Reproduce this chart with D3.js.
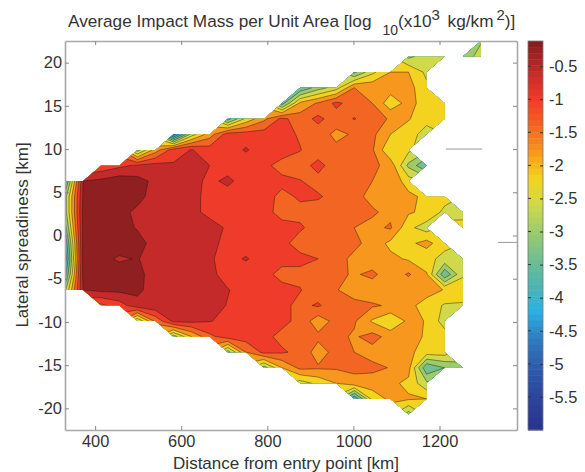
<!DOCTYPE html>
<html>
<head>
<meta charset="utf-8">
<script src="https://cdnjs.cloudflare.com/ajax/libs/d3/7.8.5/d3.min.js"></script>
<style>
  html, body { margin: 0; padding: 0; background: #fff; }
  text { font-family: "Liberation Sans", Arial, sans-serif; fill: #333; }
</style>
</head>
<body>
<svg id="chart" width="585" height="472"></svg>
<script>
const _ = null;

// log10 impact mass, one row per lateral position (+22.5 km first)
// columns start at 330 km, 42 km apart
const massRows = [
  [_,_,_,_,_,_,_,_,_,_,_,_,_,_,_,_,_,_,_,_,_,_,_,-2.85],
  [_,_,_,_,_,_,_,_,_,_,_,_,_,_,_,_,_,_,_,-2.9,-2.6,-2.6,-3.1,-2.6],
  [_,_,_,_,_,_,_,_,_,_,_,_,_,_,_,_,-3.3,-2.5,-2.0,-2.0,-2.5,_,_,_],
  [_,_,_,_,_,_,_,_,_,_,_,_,_,-3.6,-3.0,-2.6,-1.6,-1.7,-1.8,-1.85,-2.3,_,_,_],
  [_,_,_,_,_,_,_,_,_,_,_,_,-3.4,-1.9,-1.55,-1.1,-1.4,-1.6,-2.25,-1.85,-2.2,-2.35,_,_],
  [_,_,_,_,_,_,_,_,_,-3.4,-2.3,-1.7,-1.1,-1.4,-1.1,-1.4,-1.18,-1.4,-1.65,-1.97,-2.25,-2.35,_,_],
  [_,_,_,_,_,_,-4.6,-2.6,-1.8,-1.0,-1.0,-1.0,-1.05,-1.25,-1.4,-1.7,-1.55,-1.5,-2.0,-2.2,-2.6,_,_,_],
  [_,_,_,_,-3.0,-1.8,-1.0,-0.78,-1.0,-1.0,-0.76,-1.0,-1.0,-1.18,-1.45,-1.5,-1.45,-1.55,-2.38,-2.3,_,_,_,_],
  [_,_,-1.1,-0.9,-0.75,-0.65,-0.75,-0.6,-0.8,-1.0,-1.05,-1.1,-1.35,-1.4,-1.05,-1.45,-1.4,-1.5,-1.75,-2.9,-3.6,_,_,_],
  [-3.8,-0.4,-0.3,-0.15,-0.25,-0.5,-0.6,-0.65,-0.9,-0.7,-1.0,-1.05,-1.1,-1.18,-1.35,-1.4,-1.4,-1.6,-1.7,-2.2,_,_,_,_],
  [-3.0,-0.35,-0.25,-0.15,-0.25,-0.6,-0.6,-0.7,-0.9,-1.0,-1.0,-1.05,-1.3,-1.15,-1.15,-1.35,-1.5,-1.7,-1.8,-1.9,-2.1,-2.25,_,_],
  [-3.0,-0.3,-0.2,-0.25,-0.5,-0.6,-0.6,-0.7,-0.9,-1.05,-1.05,-1.1,-1.3,-1.3,-1.4,-1.4,-1.5,-1.55,-1.7,-1.95,-2.1,-2.5,-2.5,_],
  [-3.4,-0.3,-0.2,-0.3,-0.42,-0.55,-0.6,-0.6,-0.65,-0.85,-1.0,-1.0,-1.1,-1.15,-1.35,-1.4,-1.6,-1.7,-1.55,-2.3,-2.6,_,-2.3,_],
  [-4.0,-0.3,-0.2,-0.2,-0.3,-0.5,-0.55,-0.55,-0.7,-0.9,-1.0,-1.05,-1.1,-1.35,-1.35,-1.4,-1.5,-1.75,-2.1,-2.1,-1.85,-2.3,_,_],
  [-4.3,-0.3,-0.3,-0.45,-0.38,-0.55,-0.6,-0.65,-0.75,-0.95,-0.76,-1.0,-1.1,-1.1,-1.2,-1.45,-1.7,-1.85,-1.9,-2.05,-2.3,-2.5,-2.5,_],
  [-3.8,-0.3,-0.2,-0.2,-0.3,-0.55,-0.6,-0.65,-0.7,-0.95,-1.05,-1.1,-1.3,-1.3,-1.35,-1.5,-1.65,-1.5,-1.85,-1.55,-1.95,-3.55,-2.45,_],
  [-2.9,-0.4,-0.3,-0.3,-0.3,-0.6,-0.6,-0.6,-0.65,-0.78,-0.95,-1.1,-1.1,-1.18,-1.4,-1.58,-1.75,-1.85,-1.85,-1.9,-1.85,-2.02,-2.2,_],
  [_,_,-1.3,-1.0,-0.55,-0.5,-0.55,-0.6,-0.65,-0.82,-1.0,-1.1,-1.1,-1.3,-1.15,-1.45,-1.5,-1.55,-1.65,-1.9,-2.15,-2.45,-2.45,_],
  [_,_,_,_,-2.8,-1.5,-0.7,-0.7,-0.78,-0.9,-1.0,-1.0,-1.1,-1.3,-1.85,-1.45,-1.55,-2.05,-2.38,-1.9,-2.02,-2.6,_,_],
  [_,_,_,_,_,_,-3.0,-2.0,-1.3,-1.0,-1.0,-1.1,-1.3,-1.4,-1.5,-1.5,-1.65,-1.45,-1.75,-1.85,-2.05,-2.2,_,_],
  [_,_,_,_,_,_,_,_,_,-3.0,-1.6,-1.1,-1.15,-1.3,-1.8,-1.45,-1.6,-1.75,-1.85,-1.9,-2.2,-2.2,_,_],
  [_,_,_,_,_,_,_,_,_,_,_,-3.0,-2.0,-1.5,-1.55,-1.55,-1.5,-1.5,-1.62,-1.85,-3.55,-3.2,-2.9,_],
  [_,_,_,_,_,_,_,_,_,_,_,_,_,-2.6,-2.3,-2.0,-1.75,-1.8,-1.9,-2.1,-2.7,_,_,_],
  [_,_,_,_,_,_,_,_,_,_,_,_,_,_,_,_,-4.0,-2.25,-1.9,-1.95,-2.0,_,_,_],
  [_,_,_,_,_,_,_,_,_,_,_,_,_,_,_,_,_,_,_,-3.0,_,_,_,_],
  [_,_,_,_,_,_,_,_,_,_,_,_,_,_,_,_,_,_,_,_,_,_,_,_],
];

const contourLevels = [-5.6, -5.2, -4.8, -4.4, -4, -3.6, -3.2, -2.8, -2.4, -2, -1.6, -1.2, -0.8, -0.4];

const colorStops = [-6, -5.4, -5, -4.6, -4.2, -3.8, -3.4, -3, -2.6, -2.2, -1.8, -1.4, -1, -0.6, -0.2, -0.12];
const colorValues = ["#29338c", "#2c4aa0", "#2f5fae", "#2f7fc2", "#2bb2e2", "#4fb4ae", "#73bf8f", "#9ccb6b",
  "#cfd94a", "#f4d320", "#f7971d", "#f26522", "#ef3b2a", "#c42a2a", "#8f1f20", "#7f1a1c"];

const xTicks = [400, 600, 800, 1000, 1200];
const yTicks = [-20, -15, -10, -5, 0, 5, 10, 15, 20];
const colorTicks = [-0.5, -1, -1.5, -2, -2.5, -3, -3.5, -4, -4.5, -5, -5.5];

// two stray grey strokes in the picture
const strayLines = [
  { from: 1215, to: 1299, km: 10 },
  { from: 1336, to: 1380, km: -0.8 },
];

const startKm = 330;
const stepKm = 42;
const topKm = 22.5;
const stepLat = 1.8;

const margin = { left: 65, right: 517, top: 41, bottom: 430 };

const x = d3.scaleLinear().domain([330, 1380]).range([margin.left, margin.right]);
const y = d3.scaleLinear().domain([-22.5, 22.5]).range([margin.bottom, margin.top]);
const colorY = d3.scaleLinear().domain([-6, -0.12]).range([430, 41]);
const color = d3.scaleLinear().domain(colorStops).range(colorValues);

const svg = d3.select("#chart");

const nCols = massRows[0].length + 2;
const nRows = massRows.length;

const pointX = (col) => x(startKm + stepKm * col);
const pointY = (row) => y(topKm - stepLat * row);

const cell = (row, col) => {
  if (row < 0 || row >= nRows || col < 0 || col >= nCols - 2) {
    return null;
  }
  return massRows[row][col];
};

// gaps take the mean of their neighbours so the bands run out past the clip
const fillGaps = () => {
  const values = [];
  for (let row = 0; row < nRows; row++) {
    for (let col = 0; col < nCols; col++) {
      const value = cell(row, col);
      if (value !== null) {
        values.push(value);
        continue;
      }
      const around = [];
      [-1, 0, 1].forEach((dr) => {
        [-1, 0, 1].forEach((dc) => {
          const near = cell(row + dr, col + dc);
          if (near !== null) {
            around.push(near);
          }
        });
      });
      values.push(around.length ? d3.mean(around) : -6);
    }
  }
  return values;
};

// outline of the measured area: every grid cell with 3 or 4 measured corners
const maskPath = () => {
  let d = "";
  for (let row = 0; row < nRows - 1; row++) {
    for (let col = 0; col < nCols - 1; col++) {
      const corners = [[row, col], [row, col + 1], [row + 1, col + 1], [row + 1, col]]
        .filter((c) => cell(c[0], c[1]) !== null);
      if (corners.length < 3) {
        continue;
      }
      d += "M" + corners.map((c) => [pointX(c[1]), pointY(c[0])].join(",")).join("L") + "Z";
    }
  }
  return d;
};

svg.append("defs")
  .append("clipPath")
  .attr("id", "measured")
  .append("path")
  .attr("d", maskPath());

const contours = d3.contours()
  .size([nCols, nRows])
  .thresholds(contourLevels)(fillGaps());

// contour points sit half a cell off the grid index
const toScreen = d3.geoTransform({
  point(px, py) {
    this.stream.point(pointX(px - 0.5), pointY(py - 0.5));
  },
});
const contourPath = d3.geoPath(toScreen);

const plot = svg.append("g").attr("clip-path", "url(#measured)");

plot.append("rect")
  .attr("x", margin.left)
  .attr("y", margin.top)
  .attr("width", margin.right - margin.left)
  .attr("height", margin.bottom - margin.top)
  .attr("fill", color(-5.8));

plot.selectAll("path")
  .data(contours)
  .join("path")
  .attr("d", contourPath)
  .attr("fill", (d) => color(d.value + 0.2))
  .attr("stroke", "#2a1a10")
  .attr("stroke-opacity", 0.7)
  .attr("stroke-width", 0.65);

svg.selectAll(".stray")
  .data(strayLines)
  .join("line")
  .attr("class", "stray")
  .attr("x1", (d) => x(d.from))
  .attr("x2", (d) => x(d.to))
  .attr("y1", (d) => y(d.km))
  .attr("y2", (d) => y(d.km))
  .attr("stroke", "#999")
  .attr("stroke-width", 1);

const styleAxis = (g) => {
  g.selectAll(".domain").attr("stroke", "#a8a8a8").attr("stroke-width", 1.6);
  g.selectAll(".tick line").attr("stroke", "#888");
  g.selectAll(".tick text").attr("font-size", 16.4).attr("fill", "#333");
};

svg.append("g")
  .attr("transform", `translate(0,${margin.bottom})`)
  .call(d3.axisBottom(x).tickValues(xTicks).tickSize(-4).tickSizeOuter(0).tickPadding(5).tickFormat(String))
  .call(styleAxis);
svg.append("g")
  .attr("transform", `translate(0,${margin.top})`)
  .call(d3.axisTop(x).tickValues(xTicks).tickSize(-4).tickSizeOuter(0).tickFormat(""))
  .call(styleAxis);
svg.append("g")
  .attr("transform", `translate(${margin.left},0)`)
  .call(d3.axisLeft(y).tickValues(yTicks).tickSize(-4).tickSizeOuter(0).tickPadding(3).tickFormat(String))
  .call(styleAxis);
svg.append("g")
  .attr("transform", `translate(${margin.right},0)`)
  .call(d3.axisRight(y).tickValues(yTicks).tickSize(-4).tickSizeOuter(0).tickFormat(""))
  .call(styleAxis);

svg.append("text")
  .attr("x", 286)
  .attr("y", 469)
  .attr("text-anchor", "middle")
  .attr("font-size", 17)
  .text("Distance from entry point [km]");

svg.append("text")
  .attr("transform", "translate(28,235) rotate(-90)")
  .attr("text-anchor", "middle")
  .attr("font-size", 17)
  .text("Lateral spreadiness [km]");

const title = svg.append("text")
  .attr("x", 68)
  .attr("y", 27)
  .attr("font-size", 17.2);
title.append("tspan").text("Average Impact Mass per Unit Area [log");
title.append("tspan").attr("dx", 11).attr("dy", 8).attr("font-size", 14).text("10");
title.append("tspan").attr("dy", -8).text("(x10");
title.append("tspan").attr("dy", -7).attr("font-size", 15).text("3");
title.append("tspan").attr("dy", 7).attr("dx", 3).text(" kg/km");
title.append("tspan").attr("dy", -7).attr("dx", 3).attr("font-size", 15).text("2");
title.append("tspan").attr("dy", 7).text(")]");

// colour bar
const barSteps = d3.range(0, 64);
const barX = 528;
const barW = 15;
const stepH = (colorY(-6) - colorY(-0.12)) / barSteps.length;
svg.selectAll(".bar")
  .data(barSteps)
  .join("rect")
  .attr("class", "bar")
  .attr("x", barX)
  .attr("width", barW)
  .attr("y", (d) => colorY(-0.12) + d * stepH)
  .attr("height", stepH + 0.5)
  .attr("fill", (d) => color(colorY.invert(colorY(-0.12) + (d + 0.5) * stepH)));

svg.append("rect")
  .attr("x", barX)
  .attr("y", colorY(-0.12))
  .attr("width", barW)
  .attr("height", colorY(-6) - colorY(-0.12))
  .attr("fill", "none")
  .attr("stroke", "#777")
  .attr("stroke-width", 0.8);

const barAxis = svg.append("g")
  .attr("transform", `translate(${barX + barW},0)`)
  .call(d3.axisRight(colorY).tickValues(colorTicks).tickSize(-3).tickSizeOuter(0).tickPadding(6).tickFormat(String))
  .call(styleAxis);
barAxis.select(".domain").remove();
barAxis.selectAll(".tick line").attr("stroke", "#333");

svg.append("g")
  .selectAll("line")
  .data(colorTicks)
  .join("line")
  .attr("x1", barX)
  .attr("x2", barX + 3)
  .attr("y1", (d) => colorY(d))
  .attr("y2", (d) => colorY(d))
  .attr("stroke", "#333");
</script>
</body>
</html>
